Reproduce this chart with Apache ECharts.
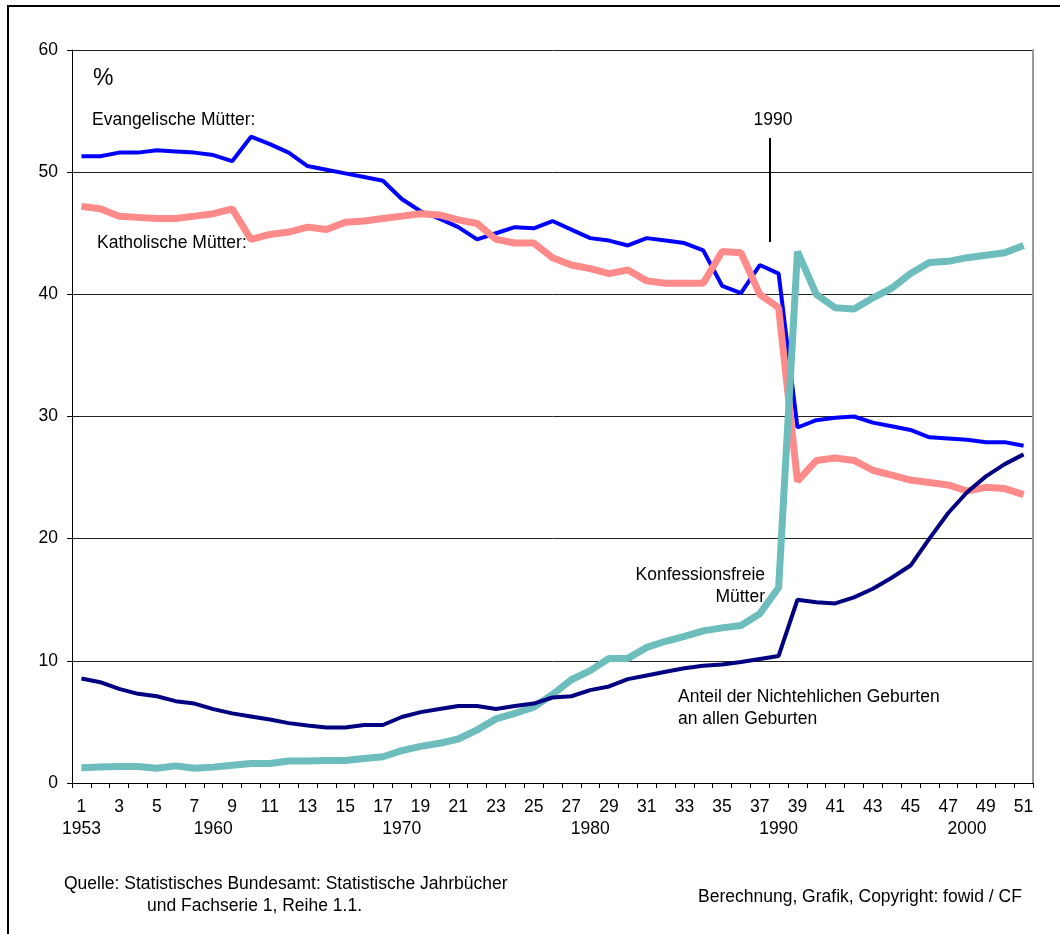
<!DOCTYPE html>
<html>
<head>
<meta charset="utf-8">
<script src="https://cdn.jsdelivr.net/npm/echarts@6/dist/echarts.min.js"></script>
<style>
html,body{margin:0;padding:0;background:#fff;}
#chart{width:1060px;height:934px;}
</style>
</head>
<body>
<div id="chart"></div>
<script>
// Categories (1..51 = 1953..2003)
const categories = Array.from({length: 51}, (_, i) => String(i + 1));
const yearCats = ['1', '8', '18', '28', '38', '48'];
const yearLabels = ['1953', '1960', '1970', '1980', '1990', '2000'];

const evangelisch = [51.3,51.3,51.6,51.6,51.8,51.7,51.6,51.4,50.9,52.9,
  52.3,51.6,50.5,50.2,49.9,49.6,49.3,47.8,46.8,46.2,
  45.5,44.5,45.0,45.5,45.4,46.0,45.3,44.6,44.4,44.0,
  44.6,44.4,44.2,43.6,40.7,40.1,42.4,41.7,29.1,29.7,
  29.9,30.0,29.5,29.2,28.9,28.3,28.2,28.1,27.9,27.9,27.6];
const katholisch = [47.2,47.0,46.4,46.3,46.2,46.2,46.4,46.6,47.0,44.5,
  44.9,45.1,45.5,45.3,45.9,46.0,46.2,46.4,46.6,46.5,
  46.1,45.8,44.5,44.2,44.2,43.0,42.4,42.1,41.7,42.0,
  41.1,40.9,40.9,40.9,43.5,43.4,40.0,38.9,24.7,26.4,
  26.6,26.4,25.6,25.2,24.8,24.6,24.4,23.9,24.2,24.1,23.6];
const konfessionsfrei = [1.25,1.3,1.35,1.35,1.2,1.4,1.2,1.3,1.45,1.6,
  1.6,1.8,1.8,1.85,1.85,2.0,2.15,2.65,3.0,3.25,
  3.6,4.35,5.25,5.7,6.2,7.25,8.45,9.2,10.2,10.2,
  11.1,11.6,12.0,12.45,12.7,12.9,13.85,16.0,43.5,40.0,
  38.9,38.8,39.7,40.5,41.7,42.6,42.7,43.0,43.2,43.4,44.0];
const nichtehelich = [8.55,8.25,7.7,7.3,7.1,6.7,6.5,6.05,5.7,5.45,
  5.2,4.9,4.7,4.55,4.55,4.75,4.75,5.4,5.8,6.05,
  6.3,6.3,6.05,6.3,6.5,7.0,7.1,7.6,7.9,8.5,
  8.8,9.1,9.4,9.6,9.7,9.9,10.15,10.4,15.0,14.8,
  14.7,15.2,15.9,16.8,17.8,20.0,22.1,23.8,25.1,26.1,26.9];

const FONT = '"Liberation Sans", Arial, sans-serif';
const FS = 17.5;
const chart = echarts.init(document.getElementById('chart'), null, {renderer: 'canvas'});

function txt(x, y, text, size, align) {
  return {type: 'text', x: x, y: y,
    style: {text: text, fill: '#000', font: (size || FS) + 'px ' + FONT,
      textAlign: align || 'left', textVerticalAlign: 'middle'}};
}

const option = {
  backgroundColor: '#fff',
  animation: false,
  grid: {left: 72, right: 27, top: 50, bottom: 151, containLabel: false},
  xAxis: [{
    type: 'category', data: categories, boundaryGap: true, position: 'bottom',
    axisLine: {lineStyle: {color: '#000', width: 1}},
    axisTick: {show: true, interval: 0, length: 5, lineStyle: {color: '#000'}},
    axisLabel: {interval: 1, margin: 15, color: '#000', fontSize: FS, fontFamily: FONT},
    splitLine: {show: false}
  }, {
    type: 'category', data: categories, boundaryGap: true, position: 'bottom',
    axisLine: {show: false}, axisTick: {show: false},
    axisLabel: {
      interval: (i, v) => yearCats.indexOf(v) >= 0,
      formatter: v => yearLabels[yearCats.indexOf(v)] || '',
      margin: 37, color: '#000', fontSize: FS, fontFamily: FONT
    },
    splitLine: {show: false}
  }],
  yAxis: [{
    type: 'value', min: 0, max: 60, interval: 10,
    axisLine: {show: true, lineStyle: {color: '#000', width: 1}},
    axisTick: {show: true, length: 5, lineStyle: {color: '#000'}},
    axisLabel: {color: '#000', fontSize: FS, fontFamily: FONT, margin: 14},
    splitLine: {show: true, lineStyle: {color: '#222', width: 1}}
  }, {
    type: 'value', min: 0, max: 60, interval: 10, position: 'right',
    axisLine: {show: true, lineStyle: {color: '#9a9a9a', width: 2}},
    axisTick: {show: false}, axisLabel: {show: false}, splitLine: {show: false}
  }],
  series: [
    {name: 'Evangelische Mütter', type: 'line', data: evangelisch, symbol: 'none',
      lineStyle: {color: '#0000FF', width: 4}, z: 3},
    {name: 'Katholische Mütter', type: 'line', data: katholisch, symbol: 'none',
      lineStyle: {color: '#FF8A8A', width: 7}, z: 4},
    {name: 'Konfessionsfreie Mütter', type: 'line', data: konfessionsfrei, symbol: 'none',
      lineStyle: {color: '#6CBDBB', width: 7}, z: 5},
    {name: 'Nichtehelich', type: 'line', data: nichtehelich, symbol: 'none',
      lineStyle: {color: '#000080', width: 4}, z: 6}
  ],
  graphic: [
    {type: 'rect', shape: {x: 8, y: 6, width: 1100, height: 1000},
      style: {fill: 'none', stroke: '#000', lineWidth: 2}, z: 100},
    {type: 'line', shape: {x1: 770, y1: 138, x2: 770, y2: 242},
      style: {stroke: '#000', lineWidth: 2}, z: 100},
    txt(773, 120, '1990', FS, 'center'),
    txt(93, 79, '%', 23),
    txt(92, 120, 'Evangelische Mütter:'),
    txt(97, 243, 'Katholische Mütter:'),
    txt(765, 575, 'Konfessionsfreie', FS, 'right'),
    txt(765, 597, 'Mütter', FS, 'right'),
    txt(678, 697, 'Anteil der Nichtehlichen Geburten'),
    txt(678, 719, 'an allen Geburten'),
    txt(64, 884, 'Quelle: Statistisches Bundesamt: Statistische Jahrbücher'),
    txt(147, 906, 'und Fachserie 1, Reihe 1.1.'),
    txt(698, 897, 'Berechnung, Grafik, Copyright: fowid / CF')
  ]
};
chart.setOption(option);
</script>
</body>
</html>
